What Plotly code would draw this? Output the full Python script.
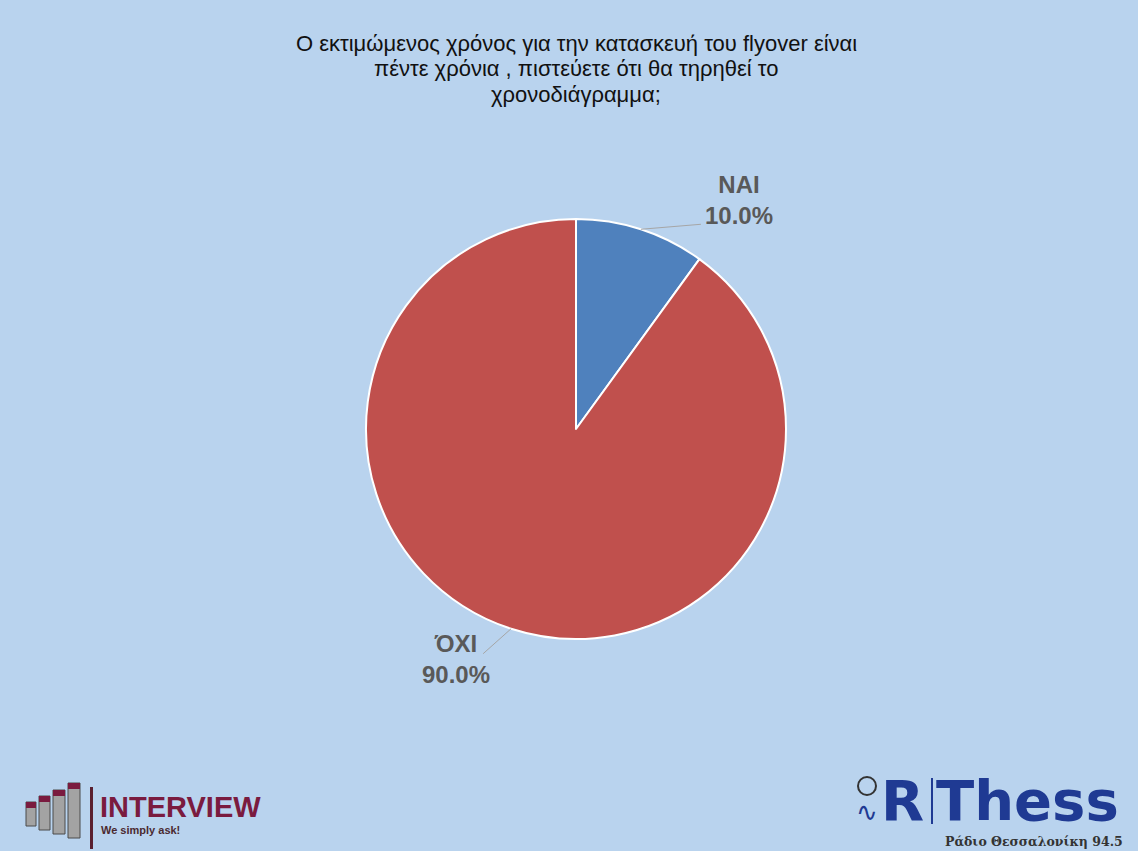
import math
import plotly.graph_objects as go

labels = ["NAI", "ΌΧΙ"]
values = [10.0, 90.0]
colors = ["#4F81BD", "#C0504D"]
title_lines = [
    "Ο εκτιμώμενος χρόνος για την κατασκευή του flyover είναι",
    "πέντε χρόνια , πιστεύετε ότι θα τηρηθεί το",
    "χρονοδιάγραμμα;",
]

W, H = 1138, 851
BG = "#B9D3EE"
cx_px, cy_px, R = 576, 429, 210

fig = go.Figure()
fig.add_trace(go.Pie(
    labels=labels, values=values, sort=False, direction="clockwise", rotation=0,
    marker=dict(colors=colors, line=dict(color="white", width=2)),
    textinfo="none", hoverinfo="label+percent", showlegend=False,
    domain=dict(x=[(cx_px - R) / W, (cx_px + R) / W],
                y=[(H - cy_px - R) / H, (H - cy_px + R) / H]),
))

def px2paper(x, y):
    return x / W, 1 - y / H

total = sum(values)
cum = 0
shapes = []
annotations = []
for lab, v in zip(labels, values):
    mid = (cum + v / 2) / total * 2 * math.pi
    cum += v
    sx = cx_px + R * math.sin(mid)
    sy = cy_px - R * math.cos(mid)
    right = math.sin(mid) >= 0
    if right:
        ex, ey = sx + 60, sy - 5
        tx, ty = ex + 38, ey - 24
    else:
        ex, ey = sx - 28, sy + 25
        tx, ty = ex - 27, ey + 5
    x0, y0 = px2paper(sx, sy)
    x1, y1 = px2paper(ex, ey)
    shapes.append(dict(type="line", xref="paper", yref="paper", x0=x0, y0=y0, x1=x1, y1=y1,
                       line=dict(color="#A6A6A6", width=1)))
    ax_, ay_ = px2paper(tx, ty)
    annotations.append(dict(
        xref="paper", yref="paper", x=ax_, y=ay_, showarrow=False,
        text=f"<b>{lab}<br>{v / total * 100:.1f}%</b>",
        font=dict(family="Liberation Sans, Arial", size=24, color="#595959"),
        align="center", xanchor="center", yanchor="middle"))

# title, one annotation per line
for i, line in enumerate(title_lines):
    x, y = px2paper(576, 43 + 25.5 * i)
    annotations.append(dict(
        xref="paper", yref="paper", x=x, y=y, showarrow=False,
        text=line, align="center", xanchor="center", yanchor="middle",
        font=dict(family="Liberation Sans, Arial", size=22, color="#111111")))

# INTERVIEW logo (approximation)
bars = [(26, 36, 802, 826), (39, 50, 796, 830), (53, 65, 790, 834), (68, 80, 783, 838)]
for x0, x1, y0, y1 in bars:
    a, b = px2paper(x0, y1)
    c, d = px2paper(x1, y0)
    shapes.append(dict(type="rect", xref="paper", yref="paper", x0=a, y0=b, x1=c, y1=d,
                       fillcolor="#A3A3A3", line=dict(color="#4A4A4A", width=1)))
    a, b = px2paper(x0, y0 + 6)
    c, d = px2paper(x1, y0)
    shapes.append(dict(type="rect", xref="paper", yref="paper", x0=a, y0=b, x1=c, y1=d,
                       fillcolor="#7A1B3F", line=dict(width=0)))
a, b = px2paper(90, 787)
c, d = px2paper(93, 849)
shapes.append(dict(type="rect", xref="paper", yref="paper", x0=a, y0=d, x1=c, y1=b,
                   fillcolor="#5A2030", line=dict(width=0)))
x, y = px2paper(98, 807)
annotations.append(dict(xref="paper", yref="paper", x=x, y=y, showarrow=False,
                        text="<b>INTERVIEW</b>", xanchor="left", yanchor="middle",
                        font=dict(family="Liberation Sans, Arial", size=29, color="#7A1B3F")))
x, y = px2paper(99, 830)
annotations.append(dict(xref="paper", yref="paper", x=x, y=y, showarrow=False,
                        text="<b>We simply ask!</b>", xanchor="left", yanchor="middle",
                        font=dict(family="Liberation Sans, Arial", size=11, color="#4A2A30")))

# RThess logo (approximation)
x, y = px2paper(879, 800)
annotations.append(dict(xref="paper", yref="paper", x=x, y=y, showarrow=False,
                        text="<b>R</b>", xanchor="left", yanchor="middle",
                        font=dict(family="DejaVu Sans, Liberation Sans", size=56, color="#1F3A93")))
a, b = px2paper(931, 778)
c, d = px2paper(933, 824)
shapes.append(dict(type="rect", xref="paper", yref="paper", x0=a, y0=d, x1=c, y1=b,
                   fillcolor="#1F3A93", line=dict(width=0)))
x, y = px2paper(934, 800)
annotations.append(dict(xref="paper", yref="paper", x=x, y=y, showarrow=False,
                        text="<b>Thess</b>", xanchor="left", yanchor="middle",
                        font=dict(family="DejaVu Sans, Liberation Sans", size=56, color="#1F3A93")))
x, y = px2paper(1125, 841)
annotations.append(dict(xref="paper", yref="paper", x=x, y=y, showarrow=False,
                        text="<b>Ράδιο Θεσσαλονίκη 94.5</b>", xanchor="right", yanchor="middle",
                        font=dict(family="DejaVu Serif, Liberation Serif", size=12.5, color="#333333")))
a, b = px2paper(858, 777)
c, d = px2paper(876, 795)
shapes.append(dict(type="circle", xref="paper", yref="paper", x0=a, y0=d, x1=c, y1=b,
                   line=dict(color="#333333", width=2)))
x, y = px2paper(867, 812)
annotations.append(dict(xref="paper", yref="paper", x=x, y=y, showarrow=False,
                        text="∿", xanchor="center", yanchor="middle",
                        font=dict(family="DejaVu Sans", size=26, color="#1F3A93")))

fig.update_layout(
    width=W, height=H, margin=dict(l=0, r=0, t=0, b=0),
    paper_bgcolor=BG, plot_bgcolor=BG,
    shapes=shapes, annotations=annotations,
)
fig.write_html("out.html", config={"displayModeBar": False},
               post_script="document.body.style.margin='0';document.body.style.overflow='hidden';")
